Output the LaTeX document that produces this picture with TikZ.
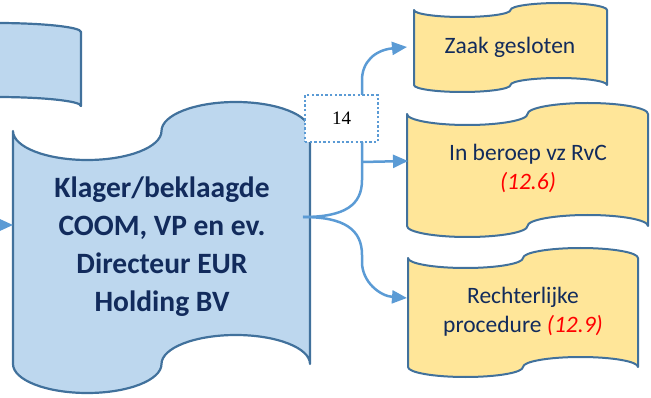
\documentclass[tikz,border=0pt]{standalone}
\usepackage{fontspec}
\setmainfont{Carlito}
\newfontfamily\numfont{Liberation Serif}
\usetikzlibrary{arrows.meta}
\definecolor{tapeblue}{HTML}{BDD7EE}
\definecolor{tapeyellow}{HTML}{FFE699}
\definecolor{edgeblue}{HTML}{41719C}
\definecolor{arrowblue}{HTML}{5B9BD5}
\definecolor{navytext}{HTML}{122B5C}
\definecolor{redtext}{HTML}{FF0000}
% punched tape: #1 style, #2 x0, #3 top, #4 x1, #5 bottom, #6 wave amplitude
\newcommand\ptape[6]{%
  \pgfmathsetmacro\PTr{(#4-#2)/4}%
  \pgfmathsetmacro\PTkr{0.5523*\PTr}%
  \pgfmathsetmacro\PTka{0.5523*#6}%
  \path[#1] (#2,{#3+#6})
  .. controls (#2,{#3+#6+\PTka}) and ({#2+\PTr-\PTkr},{#3+2*#6}) .. ({#2+\PTr},{#3+2*#6})
  .. controls ({#2+\PTr+\PTkr},{#3+2*#6}) and ({#2+2*\PTr},{#3+#6+\PTka}) .. ({#2+2*\PTr},{#3+#6})
  .. controls ({#2+2*\PTr},{#3+#6-\PTka}) and ({#2+3*\PTr-\PTkr},#3) .. ({#2+3*\PTr},#3)
  .. controls ({#2+3*\PTr+\PTkr},#3) and (#4,{#3+#6-\PTka}) .. (#4,{#3+#6})
  -- (#4,{#5-#6})
  .. controls (#4,{#5-#6-\PTka}) and ({#4-\PTr+\PTkr},{#5-2*#6}) .. ({#4-\PTr},{#5-2*#6})
  .. controls ({#4-\PTr-\PTkr},{#5-2*#6}) and ({#4-2*\PTr},{#5-#6-\PTka}) .. ({#4-2*\PTr},{#5-#6})
  .. controls ({#4-2*\PTr},{#5-#6+\PTka}) and ({#4-3*\PTr+\PTkr},#5) .. ({#4-3*\PTr},#5)
  .. controls ({#4-3*\PTr-\PTkr},#5) and (#2,{#5-#6+\PTka}) .. (#2,{#5-#6})
  -- cycle;}
\begin{document}
\begin{tikzpicture}[x=1pt,y=-1pt,
  bluetape/.style={fill=tapeblue,draw=edgeblue,line width=2.2pt,line join=round},
  yellowtape/.style={fill=tapeyellow,draw=edgeblue,line width=2pt,line join=round},
  conn/.style={draw=arrowblue,line width=2.5pt,-{Triangle[length=15pt,width=13pt]}},
  maintext/.style={font=\bfseries\fontsize{29.5}{38}\selectfont,text=navytext,align=center},
  ytext/.style={font=\fontsize{23.5}{29}\selectfont,text=navytext,align=center},
  numbox/.style={draw=arrowblue,fill=white,line width=2.6pt,dash pattern=on 2.4pt off 2.2pt,
    minimum width=73pt,minimum height=47pt,inner sep=0pt,font=\numfont\fontsize{19}{22}\selectfont}]
\useasboundingbox (0,0) rectangle (651,398);
\clip (0,0) rectangle (651,398);
% shapes
\ptape{bluetape}{-259}{23}{81}{115}{9}
\ptape{bluetape}{13}{102}{310}{393}{29}
\ptape{yellowtape}{414}{3}{607}{92}{7}
\ptape{yellowtape}{407}{103}{648}{237}{11}
\ptape{yellowtape}{408}{248}{638}{377}{10}
% texts
\node[maintext] (main) at (162,247) {Klager/beklaagde\\COOM, VP en ev.\\Directeur EUR\\Holding BV};
\node[ytext] (zaak) at (510,47) {Zaak gesloten};
\node[ytext] (beroep) at (528,168) {In beroep vz RvC\\{\color{redtext}\itshape (12.6)}};
\node[ytext] (recht) at (523,312) {Rechterlijke\\procedure {\color{redtext}\itshape (12.9)}};
% connector ends
\coordinate (J) at (303,217);
\coordinate (leftIn) at (13,225);
\coordinate (zaakW) at (407,47);
\coordinate (beroepW) at (408,161);
\coordinate (rechtW) at (407,298);
\coordinate (split) at (362,162);
% connectors
\draw[conn] (-20,225) -- (leftIn);
\draw[conn] (J) .. controls (345,217) and (362,205) .. (362,180) -- (362,80)
  .. controls (362,62) and (375,50) .. (zaakW);
\draw[conn] (J) .. controls (345,217) and (362,230) .. (362,255) -- (362,262)
  .. controls (362,282) and (380,296) .. (rechtW);
\draw[conn] (split) -- (beroepW);
% label box
\node[numbox] (lbl) at (341.5,118.5) {14};
\end{tikzpicture}
\end{document}
